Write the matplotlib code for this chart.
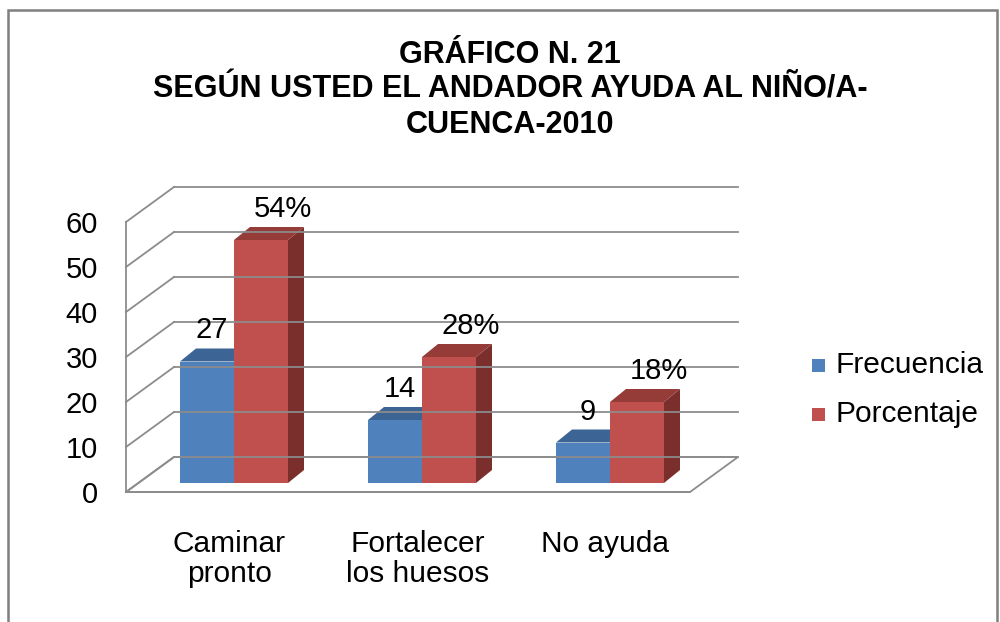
import matplotlib
matplotlib.use('Agg')
import matplotlib.pyplot as plt
from matplotlib.patches import Polygon, Rectangle

plt.rcParams['font.family'] = ['Liberation Sans', 'DejaVu Sans']

categories = ['Caminar\npronto', 'Fortalecer\nlos huesos', 'No ayuda']
frecuencia = [27, 14, 9]
porcentaje = [54, 28, 18]
porcentaje_labels = ['54%', '28%', '18%']
series_names = ['Frecuencia', 'Porcentaje']
y_ticks = [0, 10, 20, 30, 40, 50, 60]
title = 'GRÁFICO N. 21\nSEGÚN USTED EL ANDADOR AYUDA AL NIÑO/A-\nCUENCA-2010'

W, H = 1000, 622
fig = plt.figure(figsize=(W / 100, H / 100), dpi=100)
fig.patch.set_facecolor('white')

# front plane of the plot in pixels
x0_px, x1_px, y0_px, y1_px = 126, 690, 492, 222
ax = fig.add_axes([x0_px / W, 1 - y0_px / H, (x1_px - x0_px) / W, (y0_px - y1_px) / H])
ax.set_xlim(0, 3)
ax.set_ylim(0, 60)
ax.axis('off')

sx = 3 / (x1_px - x0_px)
sy = 60 / (y0_px - y1_px)

wall_dx, wall_dy = 48 * sx, 35 * sy      # depth of the chart
shift_dx, shift_dy = 14 * sx, 9 * sy     # bars sit a bit behind the front
bar_dx, bar_dy = 16 * sx, 13 * sy        # bar depth
bar_w = 54 * sx

grid_c = '#8c8c8c'
lw = 1.3
fs = 21

# floor
floor = Polygon([(0, 0), (3, 0), (3 + wall_dx, wall_dy), (wall_dx, wall_dy)],
                closed=True, facecolor='white', edgecolor=grid_c, lw=lw, clip_on=False)
ax.add_patch(floor)

# back wall gridlines and left wall
for v in y_ticks:
    ax.plot([wall_dx, 3 + wall_dx], [v + wall_dy, v + wall_dy], color=grid_c, lw=lw, clip_on=False)
    ax.plot([0, wall_dx], [v, v + wall_dy], color=grid_c, lw=lw, clip_on=False)
ax.plot([0, 0], [0, 60], color=grid_c, lw=lw, clip_on=False)
ax.plot([0, 3], [0, 0], color=grid_c, lw=lw, clip_on=False)


def draw_bar(x, v, front, top, side):
    xb = x + shift_dx
    yb = shift_dy
    ax.add_patch(Polygon([(xb + bar_w, yb), (xb + bar_w, yb + v),
                          (xb + bar_w + bar_dx, yb + v + bar_dy), (xb + bar_w + bar_dx, yb + bar_dy)],
                         closed=True, facecolor=side, edgecolor='none', clip_on=False))
    ax.add_patch(Polygon([(xb, yb + v), (xb + bar_w, yb + v),
                          (xb + bar_w + bar_dx, yb + v + bar_dy), (xb + bar_dx, yb + v + bar_dy)],
                         closed=True, facecolor=top, edgecolor='none', clip_on=False))
    ax.add_patch(Rectangle((xb, yb), bar_w, v, facecolor=front, edgecolor='none', clip_on=False))
    return xb + bar_w / 2, yb + v + bar_dy


blue = ('#4F81BD', '#3C6494', '#385D8A')
red = ('#C0504D', '#953C39', '#7B2F2D')

for i in range(len(categories)):
    c = i + 0.5
    cx, top = draw_bar(c - bar_w, frecuencia[i], *blue)
    ax.text(cx + 5 * sx, top + 18 * sy, str(frecuencia[i]), ha='center', va='center',
            fontsize=fs, clip_on=False)
    cx, top = draw_bar(c, porcentaje[i], *red)
    ax.text(cx + 22 * sx, top + 18 * sy, porcentaje_labels[i], ha='center', va='center',
            fontsize=fs, clip_on=False)
    ax.text(c + 0.05, -38 * sy, categories[i], ha='center', va='top', fontsize=fs + 0.5,
            linespacing=1.08, clip_on=False)

for v in y_ticks:
    ax.text(-28 * sx, v - 3 * sy, str(v), ha='right', va='center',
            fontsize=fs, clip_on=False)

# title
fig.text(510 / W, 1 - 90 / H, title, ha='center', va='center', fontsize=22,
         fontweight='bold', linespacing=1.2)

# legend
for k, (name, col) in enumerate(zip(series_names, [blue[0], red[0]])):
    yy = 365 + 49 * k
    fig.patches.append(Rectangle((812 / W, 1 - (yy + 6.5) / H), 13 / W, 13 / H,
                                 facecolor=col, edgecolor='none', transform=fig.transFigure))
    fig.text(835 / W, 1 - yy / H, name, ha='left', va='center', fontsize=fs + 0.5)

# outer border
fig.patches.append(Rectangle((8 / W, -0.05), 989 / W, 1 - 10 / H + 0.05, fill=False,
                             edgecolor='#7f7f7f', lw=1.8, transform=fig.transFigure))

fig.savefig('out.png', dpi=100)
